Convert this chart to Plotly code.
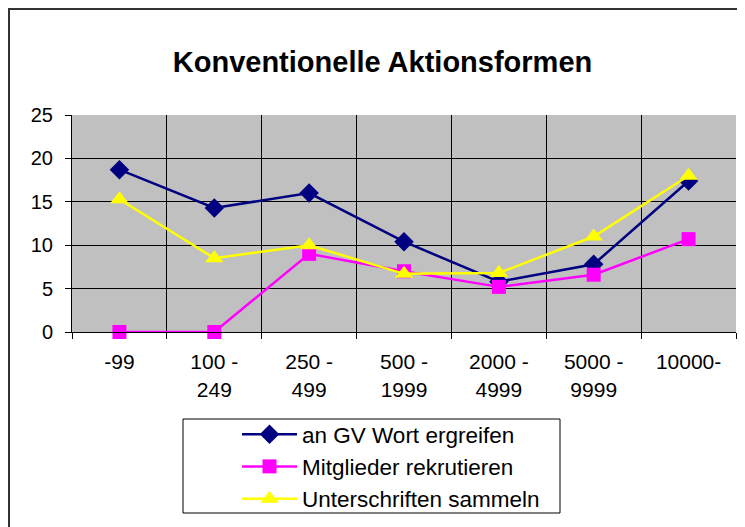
import plotly.graph_objects as go

categories = ["-99", "100 -<br>249", "250 -<br>499", "500 -<br>1999",
              "2000 -<br>4999", "5000 -<br>9999", "10000-"]
series_names = ["an GV Wort ergreifen", "Mitglieder rekrutieren", "Unterschriften sammeln"]
wort_ergreifen = [18.7, 14.3, 16.0, 10.4, 5.8, 7.8, 17.4]
mitglieder_rekrutieren = [0.0, 0.0, 9.0, 7.0, 5.2, 6.6, 10.7]
unterschriften_sammeln = [15.3, 8.5, 10.0, 6.7, 6.8, 11.0, 18.0]
title_text = "Konventionelle Aktionsformen"

FONT = "Liberation Sans, Arial, sans-serif"

fig = go.Figure()
fig.add_trace(go.Scatter(x=categories, y=wort_ergreifen, name=series_names[0],
                         mode="lines+markers", cliponaxis=False,
                         line=dict(color="#000080", width=2.5),
                         marker=dict(symbol="diamond", size=15, color="#000080")))
fig.add_trace(go.Scatter(x=categories, y=mitglieder_rekrutieren, name=series_names[1],
                         mode="lines+markers", cliponaxis=False,
                         line=dict(color="#FF00FF", width=2.5),
                         marker=dict(symbol="square", size=14, color="#FF00FF")))
fig.add_trace(go.Scatter(x=categories, y=unterschriften_sammeln, name=series_names[2],
                         mode="lines+markers", cliponaxis=False,
                         line=dict(color="#FFFF00", width=2.5),
                         marker=dict(symbol="triangle-up", size=16, color="#FFFF00")))

# page offset caused by the default 8px body margin of the HTML page
OFF = 8
W, H = 745 - OFF, 527 - OFF
# plot area in page pixels: x 72..736, y 115..332
L, R, T, B = 72 - OFF, 745 - 736, 115 - OFF, 527 - 332
pw, ph = W - L - R, H - T - B

def px_x(p):
    return (p - OFF - L) / pw

def px_y(p):
    return (H - B - (p - OFF)) / ph

fig.update_layout(
    width=W, height=H,
    margin=dict(l=L, r=R, t=T, b=B, autoexpand=False),
    paper_bgcolor="white",
    plot_bgcolor="#C0C0C0",
    font=dict(family=FONT, color="black"),
    title=dict(text="<b>" + title_text + "</b>", x=(382.5 - OFF) / W, xanchor="center",
               y=1 - (62 - OFF) / H, yanchor="middle", yref="container",
               font=dict(size=29, family=FONT, color="black")),
    showlegend=True,
    legend=dict(x=px_x(237), y=px_y(413), xanchor="left", yanchor="top",
                bgcolor="rgba(0,0,0,0)", borderwidth=0,
                font=dict(size=22.5, family=FONT, color="black"),
                itemwidth=55, tracegroupgap=0),
    xaxis=dict(type="category", tickson="boundaries", showgrid=True,
               gridcolor="black", gridwidth=1,
               showline=True, linecolor="black", linewidth=1,
               ticks="outside", ticklen=6, tickcolor="black",
               tickfont=dict(size=21, family=FONT, color="black"),
               ticklabelstandoff=11, automargin=False,
               range=[-0.5, 6.5]),
    yaxis=dict(range=[0, 25], tickvals=[0, 5, 10, 15, 20, 25],
               showgrid=True, gridcolor="black", gridwidth=1,
               zeroline=False, automargin=False,
               showline=True, linecolor="black", linewidth=1,
               ticks="outside", ticklen=6, tickcolor="black",
               tickfont=dict(size=20, family=FONT, color="black"),
               ticklabelstandoff=8),
    shapes=[
        dict(type="rect", xref="paper", yref="paper",
             x0=px_x(9), x1=px_x(760), y0=px_y(540), y1=px_y(9),
             line=dict(color="#333333", width=2), fillcolor="rgba(0,0,0,0)",
             layer="below"),
        dict(type="rect", xref="paper", yref="paper",
             x0=px_x(183), x1=px_x(560), y0=px_y(513), y1=px_y(419),
             line=dict(color="black", width=1), fillcolor="rgba(0,0,0,0)"),
    ],
)

fig.write_html("out.html")
